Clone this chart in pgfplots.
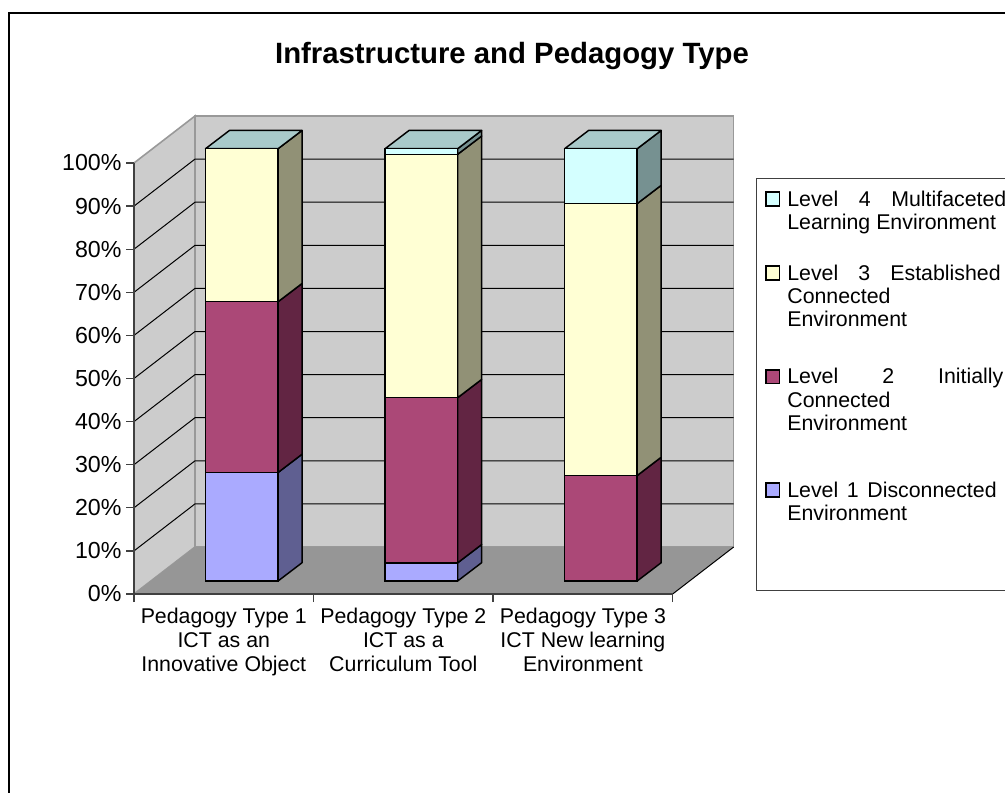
\documentclass[border=0pt]{standalone}
\usepackage{fontspec}
\setmainfont{Liberation Sans}
\usepackage{pgfplots}
\pgfplotsset{compat=1.18}
\usepackage{pgfplotstable}
\definecolor{wall}{HTML}{CCCCCC}
\definecolor{wallline}{HTML}{999999}
\definecolor{floorc}{HTML}{969696}
\definecolor{axisc}{HTML}{404040}
\definecolor{lvla}{HTML}{AAAAFF}
\definecolor{lvlas}{HTML}{5F5F91}
\definecolor{lvlb}{HTML}{AB4877}
\definecolor{lvlbs}{HTML}{622543}
\definecolor{lvlc}{HTML}{FFFFD4}
\definecolor{lvlcs}{HTML}{919176}
\definecolor{lvld}{HTML}{D4FFFF}
\definecolor{lvlds}{HTML}{769191}
\definecolor{topc}{HTML}{A9CACA}
% share of each level, per pedagogy type
\pgfplotstableread{
x  L1   L2   L3   L4
0  25.1 39.5 35.4 0
1  4.2  38.2 56.3 1.3
2  0    24.4 62.9 12.7
}\shares
\newcommand{\legline}[2]{\parbox[t][#1][t]{170pt}{\fontsize{16}{17.5}\selectfont #2}}
\pgfplotsset{
  legsq/.style={legend image code/.code={\draw[black,line width=1.1pt,fill=#1] (0pt,0.3pt) rectangle (10.2pt,10.5pt);}},
  side/.style={draw=black,line width=1.1pt,line join=round},
}
\begin{document}
\begin{tikzpicture}
\path[use as bounding box] (0,0) rectangle (753.75pt,594pt);
\draw[black,line width=1.5pt] (6.9pt,-5pt) -- (6.9pt,584pt) -- (760pt,584pt);
% walls, floor, axes, legend
\begin{axis}[
  at={(100.5pt,148.5pt)}, anchor=south west, scale only axis,
  width=404pt, height=323.25pt,
  xmin=-0.5, xmax=2.5, ymin=0, ymax=100,
  clip=false, axis on top,
  axis lines=left,
  axis line style={-,draw=axisc,line width=1.2pt},
  tick align=outside,
  tick style={draw=axisc,line width=1pt},
  major tick length=6pt,
  xtick={-0.5,0.5,1.5,2.5}, xticklabels={},
  extra x ticks={0,1,2},
  extra x tick labels={Pedagogy Type 1\\ICT as an\\Innovative Object,Pedagogy Type 2\\ICT as a\\Curriculum Tool,Pedagogy Type 3\\ICT New learning\\Environment},
  extra x tick style={major tick length=0pt,tick style={draw=none},
    tick label style={align=center,font=\fontsize{16}{18}\selectfont,yshift=-6.7pt}},
  ytick={0,10,...,100},
  yticklabel={\pgfmathprintnumber{\tick}\%},
  /pgf/number format/assume math mode=true,
  yticklabel style={font=\fontsize{17.4}{20}\selectfont,inner sep=3.2pt},
  title={Infrastructure and Pedagogy Type},
  title style={at={(0.7017,1.2112)},anchor=base,font=\fontsize{22}{26}\selectfont\bfseries},
  legend style={at={(1.1541,0.9652)},anchor=north west,draw=axisc,line width=1.1pt,
    inner xsep=6.7pt,inner ysep=9pt,
    cells={anchor=base west},
    nodes={inner sep=0pt,text depth={},line width=0pt},
    /tikz/column 1/.style={column sep=5.2pt}},
]
\addplot[forget plot,fill=wall,draw=wallline,line width=1.2pt] coordinates {(-0.5,0) (-0.1604,10.9) (-0.1604,110.9) (-0.5,100)} -- cycle;
\addplot[forget plot,fill=wall,draw=wallline,line width=1.2pt] coordinates {(-0.1604,10.9) (2.8396,10.9) (2.8396,110.9) (-0.1604,110.9)} -- cycle;
\addplot[forget plot,fill=floorc,draw=none] coordinates {(-0.5,0) (-0.1604,10.9) (2.8396,10.9) (2.5,0)} -- cycle;
\addplot[forget plot,black,line width=.75pt] coordinates {(-0.5,10) (-0.1604,20.9) (2.8396,20.9)};
\addplot[forget plot,black,line width=.75pt] coordinates {(-0.5,20) (-0.1604,30.9) (2.8396,30.9)};
\addplot[forget plot,black,line width=.75pt] coordinates {(-0.5,30) (-0.1604,40.9) (2.8396,40.9)};
\addplot[forget plot,black,line width=.75pt] coordinates {(-0.5,40) (-0.1604,50.9) (2.8396,50.9)};
\addplot[forget plot,black,line width=.75pt] coordinates {(-0.5,50) (-0.1604,60.9) (2.8396,60.9)};
\addplot[forget plot,black,line width=.75pt] coordinates {(-0.5,60) (-0.1604,70.9) (2.8396,70.9)};
\addplot[forget plot,black,line width=.75pt] coordinates {(-0.5,70) (-0.1604,80.9) (2.8396,80.9)};
\addplot[forget plot,black,line width=.75pt] coordinates {(-0.5,80) (-0.1604,90.9) (2.8396,90.9)};
\addplot[forget plot,black,line width=.75pt] coordinates {(-0.5,90) (-0.1604,100.9) (2.8396,100.9)};
\addplot[forget plot,black,line width=.75pt] coordinates {(2.5,0) (2.8396,10.9)};
\addlegendimage{legsq=lvld}
\addlegendentry{\legline{55.5pt}{\hbox to 164.25pt{Level\hfil 4\hfil Multifaceted}\hbox{Learning Environment}}}
\addlegendimage{legsq=lvlc}
\addlegendentry{\legline{77.75pt}{\hbox to 160pt{Level\hfil 3\hfil Established}\hbox{Connected}\hbox{Environment}}}
\addlegendimage{legsq=lvlb}
\addlegendentry{\legline{85pt}{\hbox to 162pt{Level\hfil 2\hfil Initially}\hbox{Connected}\hbox{Environment}}}
\addlegendimage{legsq=lvla}
\addlegendentry{\legline{72.5pt}{\hbox to 157pt{Level\hfil 1\hfil Disconnected}\hbox{Environment}}}
\end{axis}
% side and top faces of the bars
\begin{axis}[
  at={(114pt,158.25pt)}, anchor=south west, scale only axis,
  width=404pt, height=324.2pt,
  xmin=-0.5, xmax=2.5, ymin=0, ymax=100, clip=false, hide axis,
]
% bar 1
\addplot[side,fill=lvlas] coordinates {(0.2021,0) (0.3357,4.23) (0.3357,29.33) (0.2021,25.1)} -- cycle;
\addplot[side,fill=lvlbs] coordinates {(0.2021,25.1) (0.3357,29.33) (0.3357,68.83) (0.2021,64.6)} -- cycle;
\addplot[side,fill=lvlcs] coordinates {(0.2021,64.6) (0.3357,68.83) (0.3357,104.23) (0.2021,100)} -- cycle;
\addplot[side,fill=topc] coordinates {(-0.2021,100) (0.2021,100) (0.3357,104.23) (-0.0685,104.23)} -- cycle;
% bar 2
\addplot[side,fill=lvlas] coordinates {(1.2021,0) (1.3357,4.23) (1.3357,8.43) (1.2021,4.2)} -- cycle;
\addplot[side,fill=lvlbs] coordinates {(1.2021,4.2) (1.3357,8.43) (1.3357,46.63) (1.2021,42.4)} -- cycle;
\addplot[side,fill=lvlcs] coordinates {(1.2021,42.4) (1.3357,46.63) (1.3357,102.93) (1.2021,98.7)} -- cycle;
\addplot[side,fill=lvlds] coordinates {(1.2021,98.7) (1.3357,102.93) (1.3357,104.23) (1.2021,100)} -- cycle;
\addplot[side,fill=topc] coordinates {(0.7979,100) (1.2021,100) (1.3357,104.23) (0.9315,104.23)} -- cycle;
% bar 3
\addplot[side,fill=lvlbs] coordinates {(2.2021,0) (2.3357,4.23) (2.3357,28.63) (2.2021,24.4)} -- cycle;
\addplot[side,fill=lvlcs] coordinates {(2.2021,24.4) (2.3357,28.63) (2.3357,91.53) (2.2021,87.3)} -- cycle;
\addplot[side,fill=lvlds] coordinates {(2.2021,87.3) (2.3357,91.53) (2.3357,104.23) (2.2021,100)} -- cycle;
\addplot[side,fill=topc] coordinates {(1.7979,100) (2.2021,100) (2.3357,104.23) (1.9315,104.23)} -- cycle;
\end{axis}
% front faces of the bars
\begin{axis}[
  at={(114pt,158.25pt)}, anchor=south west, scale only axis,
  width=404pt, height=324.2pt,
  xmin=-0.5, xmax=2.5, ymin=0, ymax=100, clip=false, hide axis,
  ybar stacked, bar width=54.45pt,
]
\addplot[draw=black,line width=1.1pt,fill=lvla] table[x=x,y=L1] {\shares};
\addplot[draw=black,line width=1.1pt,fill=lvlb] table[x=x,y=L2] {\shares};
\addplot[draw=black,line width=1.1pt,fill=lvlc] table[x=x,y=L3] {\shares};
\addplot[draw=black,line width=1.1pt,fill=lvld] table[x=x,y=L4] {\shares};
\end{axis}
\end{tikzpicture}
\end{document}
